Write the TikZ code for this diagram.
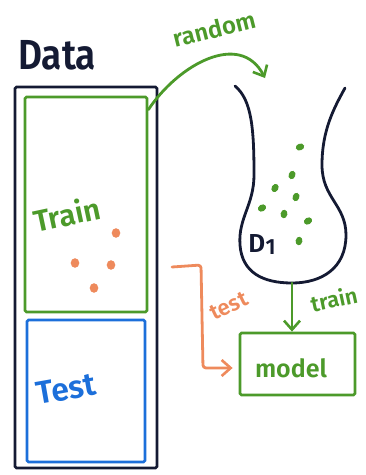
\documentclass[tikz,border=0pt]{standalone}
\usepackage{fontspec}
\setmainfont{Fira Sans}[BoldFont={Fira Sans SemiBold}]
\usetikzlibrary{arrows.meta}
\definecolor{ink}{HTML}{141A33}
\definecolor{grn}{HTML}{4C9A2A}
\definecolor{blu}{HTML}{1C6FDA}
\definecolor{org}{HTML}{EE8A5C}
\tikzset{
  box/.style={draw, line width=2.8pt, rounded corners=1.5pt, inner sep=0pt},
  stroke/.style={line width=2.8pt, line cap=round, line join=round},
  tip/.style={-{Straight Barb[length=9pt,width=16pt,line width=2.6pt]}},
  lbl/.style={inner sep=0pt, font=\bfseries},
}
\newcommand{\fs}[1]{\fontsize{#1}{#1}\selectfont}
\begin{document}
\begin{tikzpicture}[x=1pt,y=-1pt]
\useasboundingbox (0,0) rectangle (365,475);
% boxes
\node[box, ink, minimum width=142pt, minimum height=381pt] (data) at (86,277.5) {};
\node[box, grn, minimum width=122pt, minimum height=215pt] (train) at (86,204.5) {};
\node[box, blu, minimum width=118pt, minimum height=142pt] (test) at (86,391) {};
\node[box, grn, minimum width=115pt, minimum height=62pt] (model) at (297.5,364) {};
% labels
\node[lbl, ink, xscale=0.88] (datalbl) at (57,55) {\fs{42}Data};
\node[lbl, grn, rotate=12] (trainlbl) at (67,214) {\fs{30}Train};
\node[lbl, blu, rotate=10] (testlbl) at (66,389) {\fs{32}Test};
\node[lbl, grn] (modellbl) at (291,368) {\fs{25}model};
\node[lbl, grn, rotate=14] (randomlbl) at (214,29) {\fs{24}random};
\node[lbl, org, rotate=26] (testarr) at (229,306) {\fs{22}test};
\node[lbl, grn, rotate=12] (trainarr) at (334,299) {\fs{22}train};
\node[lbl, ink] (dlbl) at (262,244) {\fs{26}D\kern0.5pt\raisebox{-2pt}{\fs{22}1}};
% bag
\draw[stroke, ink] (235,86) .. controls (252,100) and (254,130) .. (254,175)
  .. controls (254,205) and (238,218) .. (240,245)
  .. controls (242,272) and (262,283) .. (292,283)
  .. controls (322,283) and (346,268) .. (346,235)
  .. controls (346,205) and (322,198) .. (322,165)
  .. controls (322,130) and (334,108) .. (345,88);
\coordinate (bagbot) at (292,283);
\coordinate (bagtop) at (265,78);
\coordinate (tstart) at (172,267);
% green dots in bag
\foreach \p/\a in {(300,147)/20,(292,175)/70,(275,188)/60,(296,197)/70,(262,208)/30,(284,214)/80,(308,221)/30,(299,241)/80}
  \fill[grn, rotate around={\a:\p}] \p ellipse (4.3pt and 3.4pt);
% orange dots
\foreach \p in {(116,233),(75,263),(111,265),(94,288)}
  \fill[org] \p ellipse (4.3pt and 4.8pt);
% connectors
\draw[stroke, grn, tip] ([yshift=-14pt]train.north east) .. controls (178,65) and (240,30) .. (bagtop);
\draw[stroke, grn, tip] (bagbot) -- (bagbot |- model.north);
\draw[stroke, org, tip, rounded corners=3pt] (tstart) -- (201,265) -- (203,368) -- ([xshift=-6pt]model.west |- 0,368);
\end{tikzpicture}
\end{document}
